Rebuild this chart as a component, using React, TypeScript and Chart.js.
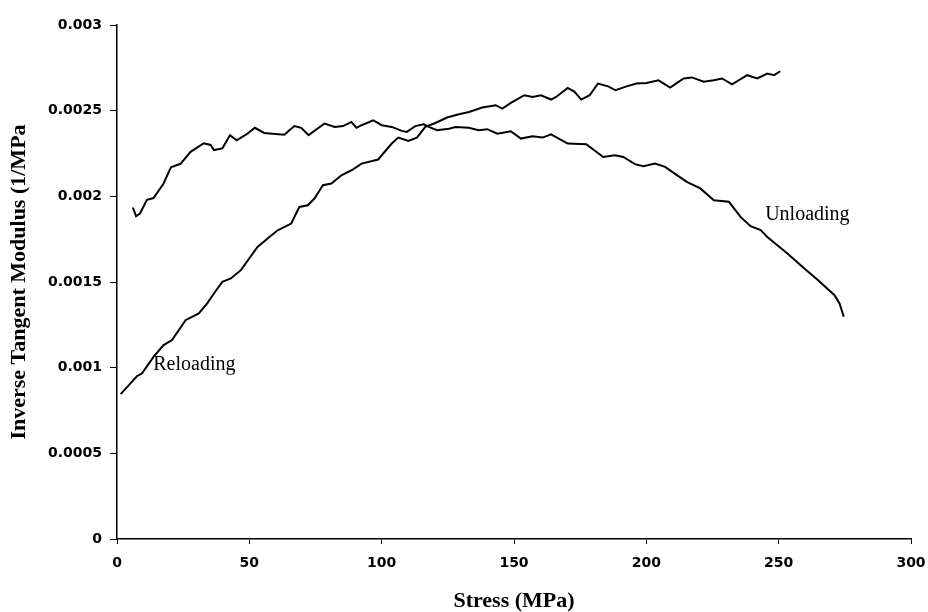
import React, { useEffect, useRef } from "react";
import { Chart, registerables } from "chart.js";

Chart.register(...registerables);

const reloadX = [1.4, 3.7, 7.5, 9.4, 13.8, 17.6, 20.8, 25.9, 30.9, 34.1, 36.6, 39.8, 43, 46.8, 53.1, 56.9, 60.7, 65.8, 68.9, 72.1, 74.6, 77.8, 81, 84.8, 89.2, 92.4, 98.7, 100.6, 103.8, 106.3, 110.1, 113.3, 116.5, 120.3, 124.7, 129.2, 133, 138, 143.1, 145.6, 148.8, 153.9, 157, 160.2, 164, 165.9, 170.3, 172.9, 175.4, 178.6, 181.7, 185.6, 188.4, 192.5, 196.3, 200.1, 204.6, 209, 214.1, 217.2, 221.7, 225.5, 228.6, 232.4, 238.1, 241.9, 245.7, 248.3, 250.6];
const reloadY = [0.000846, 0.000885, 0.00095, 0.000966, 0.001063, 0.001132, 0.001161, 0.001277, 0.001317, 0.001375, 0.001433, 0.001501, 0.001521, 0.001569, 0.001705, 0.001754, 0.001802, 0.001841, 0.001938, 0.001948, 0.001987, 0.002065, 0.002075, 0.002123, 0.002157, 0.002191, 0.002215, 0.00225, 0.002308, 0.002343, 0.002323, 0.002343, 0.002405, 0.002428, 0.00246, 0.002479, 0.002492, 0.002518, 0.002532, 0.002512, 0.002545, 0.00259, 0.00258, 0.00259, 0.002565, 0.00258, 0.002633, 0.00261, 0.002565, 0.00259, 0.002658, 0.002642, 0.002619, 0.002642, 0.002658, 0.002662, 0.002677, 0.002635, 0.002688, 0.002694, 0.002669, 0.002677, 0.002688, 0.002654, 0.002707, 0.002688, 0.002717, 0.002707, 0.00273];

const unloadX = [6.0, 7.2, 8.7, 11.3, 13.8, 17.6, 20.4, 24, 27.8, 32.8, 35.4, 36.6, 39.8, 42.7, 45.2, 49.3, 52.1, 55.6, 63.2, 67, 69.6, 72.4, 78.4, 82.3, 85.4, 88.6, 90.5, 92.4, 96.8, 100, 103.8, 107.6, 109.5, 112.7, 115.9, 117.8, 120.9, 125.4, 127.9, 132.9, 136.7, 139.9, 143.7, 148.8, 152.6, 157, 160.8, 164, 170.3, 177.3, 183.7, 188.1, 191.3, 195.7, 198.9, 203.3, 207.1, 210.3, 215.3, 220.4, 225.5, 231.2, 235.6, 239.4, 243.2, 245.7, 253.3, 259.7, 264.8, 271.1, 273, 274.6];
const unloadY = [0.001935, 0.001884, 0.0019, 0.00198, 0.00199, 0.002075, 0.00217, 0.00219, 0.00226, 0.00231, 0.0023, 0.00227, 0.00228, 0.002357, 0.002327, 0.002366, 0.0024, 0.00237, 0.00236, 0.00241, 0.0024, 0.002357, 0.002425, 0.002405, 0.00241, 0.002434, 0.0024, 0.002415, 0.002444, 0.002415, 0.002405, 0.002382, 0.002376, 0.00241, 0.00242, 0.002405, 0.002386, 0.002395, 0.002405, 0.0024, 0.002386, 0.002392, 0.002366, 0.00238, 0.002337, 0.00235, 0.002343, 0.002362, 0.002308, 0.002304, 0.00223, 0.00224, 0.00223, 0.002188, 0.002176, 0.002191, 0.002172, 0.002137, 0.002084, 0.002046, 0.001977, 0.001968, 0.00188, 0.001826, 0.001803, 0.001763, 0.001666, 0.001579, 0.001511, 0.001423, 0.001375, 0.001297];

const yTickLabels = ["0", "0.0005", "0.001", "0.0015", "0.002", "0.0025", "0.003"];
const xTitle = "Stress (MPa)";
const yTitle = "Inverse Tangent Modulus (1/MPa";

const curveLabels = [
  { text: "Reloading", x: 13.7, y: 0.001015 },
  { text: "Unloading", x: 244.9, y: 0.00189 },
];

const SERIF = "'Liberation Serif', 'Times New Roman', serif";
const SANS = "'DejaVu Sans', Verdana, sans-serif";

const labelPlugin = {
  id: "curveLabels",
  afterDatasetsDraw(chart: any) {
    const ctx = chart.ctx;
    const xs = chart.scales.x;
    const ys = chart.scales.y;
    ctx.save();
    ctx.fillStyle = "#000";
    ctx.font = `20px ${SERIF}`;
    ctx.textAlign = "left";
    ctx.textBaseline = "middle";
    for (const l of curveLabels) {
      ctx.fillText(l.text, xs.getPixelForValue(l.x), ys.getPixelForValue(l.y));
    }
    ctx.restore();
  },
};

export default function App() {
  const ref = useRef<HTMLCanvasElement | null>(null);
  useEffect(() => {
    if (!ref.current) return;
    const toPts = (xs: number[], ys: number[]) => xs.map((x, i) => ({ x, y: ys[i] }));
    const chart = new Chart(ref.current, {
      type: "line",
      data: {
        datasets: [
          {
            label: "Reloading",
            data: toPts(reloadX, reloadY),
            borderColor: "#000",
            borderWidth: 2,
            pointRadius: 0,
            tension: 0,
            fill: false,
          },
          {
            label: "Unloading",
            data: toPts(unloadX, unloadY),
            borderColor: "#000",
            borderWidth: 2,
            pointRadius: 0,
            tension: 0,
            fill: false,
          },
        ],
      },
      options: {
        animation: false,
        responsive: false,
        layout: { padding: { top: 25, right: 17, left: 0, bottom: 0 } },
        plugins: { legend: { display: false }, tooltip: { enabled: false } },
        scales: {
          x: {
            type: "linear",
            min: 0,
            max: 300,
            afterFit: (s: any) => {
              s.height = 73;
              s.paddingRight = 0;
              s.paddingLeft = 0;
            },
            ticks: {
              stepSize: 50,
              color: "#000",
              padding: 11,
              font: { family: SANS, size: 14, weight: "bold" },
            },
            grid: { drawOnChartArea: false, tickLength: 5, color: "#000", lineWidth: 1 },
            border: { color: "#000", width: 1.5 },
            title: {
              display: true,
              text: xTitle,
              color: "#000",
              padding: { top: 0, bottom: 0 },
              font: { family: SERIF, size: 22, weight: "bold", lineHeight: 1.0 },
            },
          },
          y: {
            type: "linear",
            min: 0,
            max: 0.003,
            afterFit: (s: any) => {
              s.width = 117;
              s.paddingTop = 0;
              s.paddingBottom = 0;
            },
            ticks: {
              stepSize: 0.0005,
              color: "#000",
              padding: 8,
              font: { family: SANS, size: 14, weight: "bold" },
              callback: (_v: any, i: number) => yTickLabels[i],
            },
            grid: { drawOnChartArea: false, tickLength: 7, color: "#000", lineWidth: 1 },
            border: { color: "#000", width: 1.5 },
            title: {
              display: true,
              text: yTitle,
              color: "#000",
              padding: { top: 6, bottom: 0 },
              font: { family: SERIF, size: 22, weight: "bold" },
            },
          },
        },
      },
      plugins: [labelPlugin],
    } as any);
    return () => chart.destroy();
  }, []);
  return (
    <div style={{ position: "fixed", left: 0, top: 0, width: 928, height: 612, background: "#fff" }}>
      <canvas ref={ref} width={928} height={612} />
    </div>
  );
}
